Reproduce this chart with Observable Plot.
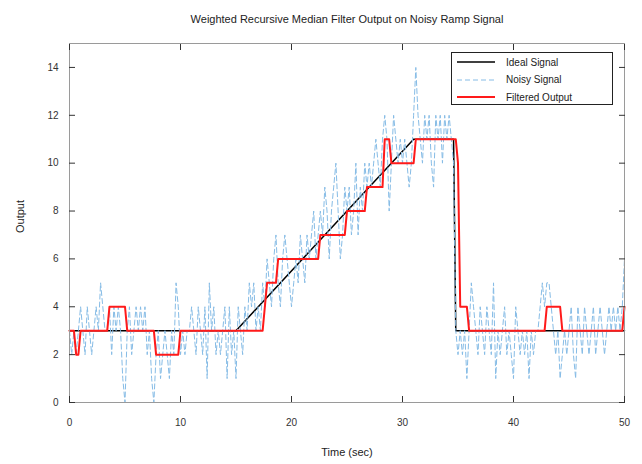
<!DOCTYPE html>
<html><head><meta charset="utf-8">
<script src="https://cdn.jsdelivr.net/npm/d3@7"></script>
<script src="https://cdn.jsdelivr.net/npm/@observablehq/plot@0.6"></script>
<style>
body{margin:0;background:#fff;}
#wrap{position:relative;width:642px;height:464px;font-family:"Liberation Sans",Arial,sans-serif;}
#legend{position:absolute;left:451px;top:52px;width:162px;height:53px;border:1px solid #222;background:#fff;box-sizing:border-box;font-size:10px;color:#222;}
#legend .row{position:absolute;left:5px;height:14px;display:flex;align-items:center;}
#legend svg{margin-right:11px;}
</style></head>
<body><div id="wrap"></div>
<script>
const title = "Weighted Recursive Median Filter Output on Noisy Ramp Signal";
const xLabel = "Time (sec)";
const yLabel = "Output";
const xTicks = [0, 10, 20, 30, 40, 50];
const yTicks = [0, 2, 4, 6, 8, 10, 12, 14];
const seriesNames = ["Ideal Signal", "Noisy Signal", "Filtered Output"];
const seriesColors = ["#000000", "#86bce6", "#ff1a1a"];

const sampleStart = 0;
const sampleStep = 0.2;
const noisyValues = [
  3,2,3,2,3,4,3,2,4,3,2,3,4,3,5,4,3,3,4,2,4,3,4,3,1,
  0,3,4,2,3,4,3,4,3,4,2,3,1,0,2,3,1,2,3,2,1,3,2,5,4,
  2,3,2,3,3,4,3,2,4,3,2,4,1,5,3,4,2,3,2,3,4,1,4,2,3,
  1,4,3,2,4,3,5,4,5,3,4,3,5,4,6,5,4,6,7,5,4,6,7,6,5,
  4,5,6,5,7,6,5,7,6,7,8,6,7,8,7,9,8,6,8,9,10,8,6,7,9,
  8,9,7,8,10,7,9,8,10,9,10,9,10,11,10,9,11,12,11,8,10,12,11,10,11,
  10,11,10,9,10,12,14,12,11,10,12,11,12,10,9,12,11,12,10,12,11,12,11,10,3,
  2,3,2,3,1,3,5,4,3,2,4,3,2,4,3,2,5,1,3,2,3,4,2,3,2,
  1,4,3,2,3,2,3,1,3,2,3,3,4,5,4,5,5,4,3,2,3,1,2,3,2,
  3,4,2,1,4,3,2,4,3,2,3,4,2,3,4,3,2,3,4,3,4,3,4,3,4,6
];

const idealTimes  = [0, 15, 31, 34.6, 34.8, 50];
const idealValues = [3, 3, 11, 11, 3, 3];

const filteredTimes  = [0, 0.4, 0.6, 0.8, 1.0, 3.4, 3.6, 5.0, 5.2, 7.6, 7.8, 9.8, 10.0, 17.4, 17.6, 17.8, 18.6, 18.8, 22.4, 22.6, 24.8, 25.0, 26.6, 26.8, 28.2, 28.4, 28.8, 29.0, 31.0, 31.2, 34.8, 35.0, 35.2, 35.8, 36.0, 42.8, 43.0, 44.2, 44.4, 49.8, 50];
const filteredValues = [3, 3, 2, 2, 3, 3, 4, 4, 3, 3, 2, 2, 3, 3, 4, 5, 5, 6, 6, 7, 7, 8, 8, 9, 9, 11, 11, 10, 10, 11, 11, 10, 4, 4, 3, 3, 4, 4, 3, 3, 4];

const noisy = noisyValues.map((v, i) => ({t: sampleStart + i * sampleStep, v}));
const ideal = idealTimes.map((t, i) => ({t, v: idealValues[i]}));
const filtered = filteredTimes.map((t, i) => ({t, v: filteredValues[i]}));

const tickColor = "#333";
const chart = Plot.plot({
  width: 642, height: 464,
  marginLeft: 69, marginRight: 18, marginTop: 43, marginBottom: 62,
  style: {fontFamily: "'Liberation Sans', Arial, sans-serif", fontSize: "10px", color: "#333", background: "#fff"},
  x: {domain: [0, 50]},
  y: {domain: [0, 15]},
  marks: [
    Plot.line(ideal, {x: "t", y: "v", stroke: seriesColors[0], strokeWidth: 1.5}),
    Plot.line(noisy, {x: "t", y: "v", stroke: seriesColors[1], strokeWidth: 1, strokeDasharray: "5,3"}),
    Plot.line(filtered, {x: "t", y: "v", stroke: seriesColors[2], strokeWidth: 2}),
    Plot.frame({stroke: "#9a9a9a"}),
    Plot.axisX(xTicks, {anchor: "bottom", tickSize: 0, tickPadding: 16, label: null, fill: "#333"}),
    Plot.axisX(xTicks, {anchor: "bottom", tickSize: -6, tickFormat: () => "", label: null, stroke: tickColor}),
    Plot.axisX(xTicks, {anchor: "top", tickSize: -6, tickFormat: () => "", label: null, stroke: tickColor}),
    Plot.axisY(yTicks, {anchor: "left", tickSize: 0, tickPadding: 11, label: null, fill: "#333"}),
    Plot.axisY(yTicks, {anchor: "left", tickSize: -6, tickFormat: () => "", label: null, stroke: tickColor}),
    Plot.axisY(yTicks, {anchor: "right", tickSize: -6, tickFormat: () => "", label: null, stroke: tickColor}),
    Plot.text([title], {frameAnchor: "top", dy: -28, fontSize: 11, fill: "#222"}),
    Plot.text([xLabel], {frameAnchor: "bottom", dy: 53, fontSize: 11, fill: "#222"}),
    Plot.text([yLabel], {frameAnchor: "left", dx: -49, dy: 10, rotate: -90, fontSize: 11, fill: "#222"})
  ]
});
const wrap = document.getElementById("wrap");
wrap.appendChild(chart);

const legend = document.createElement("div");
legend.id = "legend";
const dashes = [null, "5,3", null];
const widths = [1.5, 1, 2];
seriesNames.forEach((name, i) => {
  const row = document.createElement("div");
  row.className = "row";
  row.style.top = (2 + i * 17.5) + "px";
  row.innerHTML = `<svg width="38" height="6"><line x1="0" y1="3" x2="38" y2="3" stroke="${seriesColors[i]}" stroke-width="${widths[i]}" ${dashes[i] ? `stroke-dasharray="${dashes[i]}"` : ""}/></svg><span>${name}</span>`;
  legend.appendChild(row);
});
wrap.appendChild(legend);
</script>
</body></html>
